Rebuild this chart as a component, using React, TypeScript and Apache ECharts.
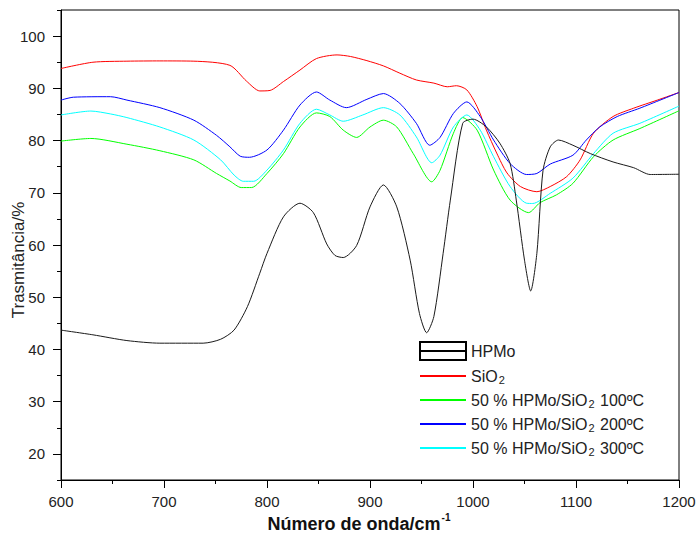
import { useEffect, useRef } from "react";
import * as echarts from "echarts";

// ---- data ----
const yMajorTicks = [20, 30, 40, 50, 60, 70, 80, 90, 100];
const yMinorTicks = [15, 25, 35, 45, 55, 65, 75, 85, 95, 105];

const seriesNames = [
  "HPMo",
  "SiO2",
  "50 % HPMo/SiO2 100ºC",
  "50 % HPMo/SiO2 200ºC",
  "50 % HPMo/SiO2 300ºC",
];
const seriesColors = ["#000000", "#ff0000", "#00ff00", "#0000ff", "#00ffff"];

const hpmoX = [600, 631, 664, 696, 738, 755, 768, 781, 793, 800, 816, 832, 845, 858, 866, 874, 887, 900, 913, 926, 939, 948, 955, 962, 971, 978, 990, 1000, 1013, 1026, 1036, 1042, 1050, 1056, 1062, 1068, 1075, 1083, 1097, 1114, 1136, 1156, 1172, 1200];
const hpmoY = [43.7, 42.8, 41.7, 41.2, 41.2, 41.95, 43.7, 48.2, 54.6, 58.4, 65.4, 68.0, 66.2, 60.2, 58.0, 57.6, 59.9, 67.3, 71.5, 67.3, 57.1, 46.9, 43.2, 46.3, 58.4, 68.6, 83.3, 84.1, 82.6, 79.5, 75.6, 68.6, 57.1, 51.2, 58.4, 74.3, 78.8, 80.1, 79.1, 77.5, 75.9, 74.8, 73.5, 73.55];

const sio2X = [600, 631, 664, 696, 729, 764, 780, 793, 803, 816, 832, 848, 868, 881, 897, 913, 929, 945, 962, 975, 984, 994, 1004, 1013, 1023, 1033, 1046, 1062, 1075, 1091, 1104, 1117, 1136, 1156, 1179, 1200];
const sio2Y = [93.8, 95.0, 95.2, 95.25, 95.2, 94.4, 91.4, 89.5, 89.6, 91.3, 93.5, 95.7, 96.4, 96.1, 95.3, 94.3, 92.9, 91.6, 91.0, 90.3, 90.5, 89.7, 86.5, 82.0, 77.6, 73.8, 71.2, 70.2, 71.2, 73.1, 76.3, 81.4, 84.6, 86.2, 87.75, 89.2];

const s100X = [600, 629, 664, 696, 729, 751, 764, 775, 785, 800, 816, 832, 848, 861, 874, 887, 900, 913, 926, 942, 960, 968, 981, 990, 1004, 1020, 1036, 1054, 1065, 1081, 1097, 1117, 1136, 1162, 1200];
const s100Y = [79.9, 80.4, 79.3, 78.05, 76.3, 73.7, 72.25, 71.0, 71.0, 73.7, 77.5, 82.6, 85.3, 84.6, 82.0, 80.6, 82.6, 83.9, 82.6, 77.5, 72.1, 74.3, 81.4, 84.4, 82.0, 74.35, 68.6, 66.2, 68.1, 69.6, 71.8, 76.9, 80.1, 82.3, 85.7];

const s200X = [600, 612, 648, 664, 696, 729, 751, 764, 774, 783, 800, 816, 832, 848, 861, 877, 897, 913, 929, 945, 958, 968, 981, 994, 1007, 1020, 1036, 1052, 1062, 1075, 1097, 1110, 1123, 1140, 1162, 1200];
const s200Y = [87.75, 88.3, 88.4, 87.75, 86.3, 83.9, 81.0, 78.8, 77.0, 76.8, 78.2, 82.0, 86.8, 89.3, 87.75, 86.3, 87.9, 89.0, 87.1, 83.3, 79.1, 80.6, 85.2, 87.4, 84.6, 80.1, 75.6, 73.5, 73.7, 75.5, 77.2, 80.1, 82.6, 84.6, 86.2, 89.2];

const s300X = [600, 629, 648, 664, 696, 729, 755, 768, 777, 787, 800, 816, 832, 848, 861, 874, 893, 913, 929, 945, 960, 968, 981, 994, 1007, 1020, 1036, 1052, 1058, 1075, 1097, 1117, 1136, 1162, 1200];
const s300Y = [84.9, 85.65, 85.1, 84.4, 82.6, 80.1, 76.3, 73.4, 72.2, 72.2, 74.35, 78.2, 83.3, 86.0, 84.9, 83.7, 84.9, 86.3, 84.9, 80.7, 75.75, 77.2, 82.6, 84.9, 82.0, 76.9, 71.2, 68.0, 67.95, 69.9, 72.8, 77.5, 81.4, 83.3, 86.6];

const seriesX = [hpmoX, sio2X, s100X, s200X, s300X];
const seriesY = [hpmoY, sio2Y, s100Y, s200Y, s300Y];

const FONT = "'Liberation Sans', Arial, sans-serif";

export default function App() {
  const ref = useRef<HTMLDivElement>(null);

  useEffect(() => {
    if (!ref.current) return;
    const chart = echarts.init(ref.current, null, { renderer: "svg" });

    const series = seriesNames.map((name, i) => ({
      name,
      type: "line",
      xAxisIndex: 0,
      yAxisIndex: 0,
      symbol: "none",
      showSymbol: false,
      smooth: 0.25,
      color: seriesColors[i],
      lineStyle: { color: i === 0 ? "#1a1a1a" : seriesColors[i], width: 1 },
      data: seriesX[i].map((x, j) => [x, seriesY[i][j]]),
      z: i === 0 ? 3 : 2,
    }));

    const legendData = seriesNames.map((name, i) =>
      i === 0
        ? {
            name,
            icon: "path://M0,0H46V18H0ZM0,9H46",
            itemStyle: { color: "#ffffff", borderColor: "#000000", borderWidth: 2, opacity: 1 },
          }
        : { name, itemStyle: { opacity: 0 } }
    );

    chart.setOption({
      animation: false,
      backgroundColor: "#ffffff",
      textStyle: { fontFamily: FONT },
      grid: {
        left: 61,
        right: 19,
        top: 10,
        bottom: 64,
        show: true,
        borderColor: "#000",
        borderWidth: 1,
        containLabel: false,
        outerBoundsMode: "none",
      },
      legend: {
        orient: "vertical",
        left: 419,
        top: 341,
        padding: 0,
        itemWidth: 46,
        itemHeight: 18,
        itemGap: 5,
        data: legendData,
        formatter: (name: string) => name.replace("SiO2", "SiO{sub|2}"),
        textStyle: {
          fontFamily: FONT,
          fontSize: 16,
          color: "#222",
          lineHeight: 18,
          rich: {
            sub: { fontSize: 11, fontFamily: FONT, color: "#222", verticalAlign: "bottom", padding: [8, 1, 0, 1], lineHeight: 10 },
          },
        },
        inactiveColor: "#222",
      },
      xAxis: {
        type: "value",
        min: 600,
        max: 1200,
        interval: 100,
        axisLine: { show: true, onZero: false, lineStyle: { color: "#000", width: 1 } },
        axisTick: { show: true, length: 8, lineStyle: { color: "#000" } },
        minorTick: { show: true, splitNumber: 2, length: 4, lineStyle: { color: "#000" } },
        splitLine: { show: false },
        minorSplitLine: { show: false },
        axisLabel: { fontFamily: FONT, fontSize: 15, color: "#222", margin: 14, formatter: (v: number) => String(v) },
        name: "{b|Número de onda/cm}{sup|-1}",
        nameLocation: "middle",
        nameGap: 32,
        nameMoveOverlap: false,
        nameTextStyle: {
          padding: [0, 22, 0, 0],
          rich: {
            b: { fontFamily: FONT, fontSize: 18, fontWeight: "bold", color: "#111", lineHeight: 21, verticalAlign: "bottom" },
            sup: { fontFamily: FONT, fontSize: 10, fontWeight: "bold", color: "#111", lineHeight: 10, verticalAlign: "top", padding: [0, 0, 0, 1] },
          },
        },
      },
      yAxis: [
        {
          type: "value",
          min: 15,
          max: 105,
          position: "left",
          axisLine: { show: true, onZero: false, lineStyle: { color: "#000", width: 1 } },
          axisTick: { show: true, length: 8, lineStyle: { color: "#000" }, customValues: yMajorTicks },
          splitLine: { show: false },
          axisLabel: {
            fontFamily: FONT,
            fontSize: 15,
            color: "#222",
            margin: 16,
            customValues: yMajorTicks,
            formatter: (v: number) => (v % 10 === 0 && v >= 20 && v <= 100 ? String(v) : ""),
          },
          name: "Trasmitância/%",
          nameLocation: "middle",
          nameGap: 34,
          nameMoveOverlap: false,
          nameTextStyle: { fontFamily: FONT, fontSize: 17, color: "#222", padding: [0, 30, 0, 0] },
        },
        {
          type: "value",
          min: 15,
          max: 105,
          position: "left",
          offset: 0,
          axisLine: { show: false },
          axisTick: { show: true, length: 4, lineStyle: { color: "#000" }, customValues: yMinorTicks },
          axisLabel: { show: false, customValues: yMinorTicks },
          splitLine: { show: false },
        },
      ],
      series,
    });

    return () => chart.dispose();
  }, []);

  return (
    <div
      ref={ref}
      style={{ position: "fixed", left: 0, top: 0, width: 698, height: 544 }}
    />
  );
}
